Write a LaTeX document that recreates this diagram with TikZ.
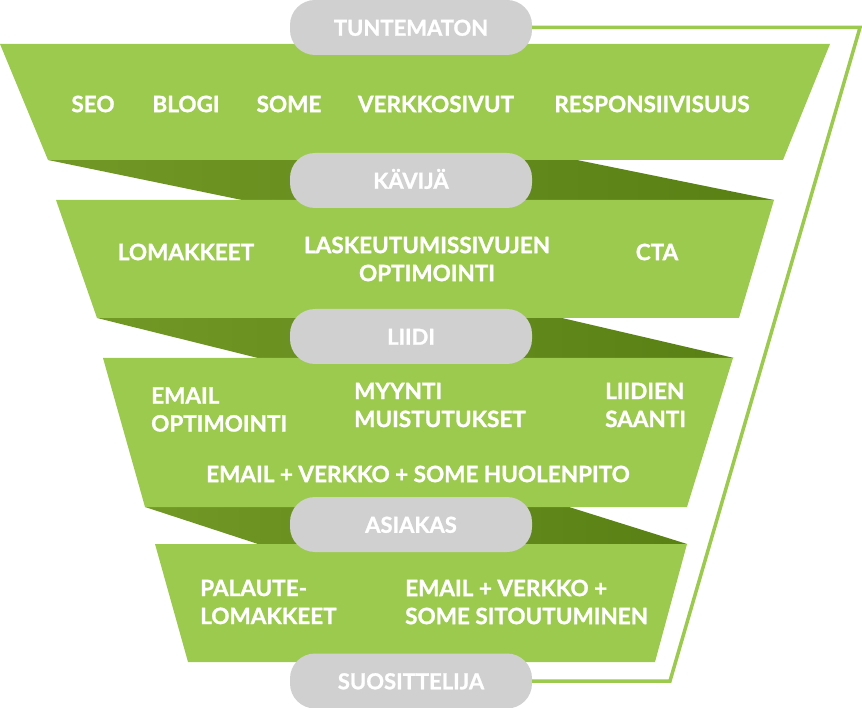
\documentclass[tikz,border=0pt]{standalone}
\usepackage{fontspec}
\setmainfont[BoldFeatures={FakeBold=1.2}]{Lato}
\usepackage{tikz}
\usetikzlibrary{positioning, calc}
\definecolor{bandgreen}{RGB}{156,202,78}
\definecolor{foldlight}{RGB}{114,152,38}
\definecolor{folddark}{RGB}{88,128,20}
\definecolor{pillgray}{RGB}{208,208,208}

\begin{document}
\begin{tikzpicture}[
    x=1pt, y=-1pt,
    band/.style={fill=bandgreen, draw=none},
    fold/.style={left color=foldlight, right color=folddark, draw=none},
    stage/.style={rectangle, fill=pillgray, rounded corners=25pt,
                  minimum width=242pt, minimum height=55pt,
                  text=white, text height=16.5pt, text depth=0pt,
                  font=\fontsize{22}{27}\selectfont\bfseries},
    itemtext/.style={text=white, inner sep=0pt,
                     font=\fontsize{22.5}{28}\selectfont\bfseries},
    outline/.style={draw=bandgreen, line width=3.5pt}
]
\useasboundingbox (0,0) rectangle (862,708);

\shade[fold] (48,160) -- (577,160) -- (774,200) -- (242,200) -- cycle;
\shade[fold] (97,318) -- (562,318) -- (734,358) -- (258,358) -- cycle;
\shade[fold] (145,507) -- (569,507) -- (687,544) -- (258,544) -- cycle;

\fill[band] (0,44) -- (830,44) -- (783,160) -- (48,160) -- cycle;
\fill[band] (56,200) -- (774,200) -- (739,318) -- (97,318) -- cycle;
\fill[band] (103,358) -- (733,358) -- (687,507) -- (145,507) -- cycle;
\fill[band] (155,544) -- (687,544) -- (655,662) -- (188,662) -- cycle;

\node[stage] (tuntematon)   at (411,27.5)  {TUNTEMATON};
\node[stage] (kavija)       at (411,180.5) {KÄVIJÄ};
\node[stage] (liidi)        at (411,336.5) {LIIDI};
\node[stage] (asiakas)      at (411,524.5) {ASIAKAS};
\node[stage] (suosittelija) at (411,681)   {SUOSITTELIJA};

\coordinate (topcorner) at (860,27.5);
\coordinate (bottomcorner) at (670,681);
\draw[outline] (tuntematon.east) -- (topcorner) -- (bottomcorner) -- (suosittelija.east);

\node[itemtext] (seo)    at (93,104)  {SEO};
\node[itemtext] (blogi)  at (186,104) {BLOGI};
\node[itemtext] (some)   at (289,104) {SOME};
\node[itemtext] (verkko) at (436,104) {VERKKOSIVUT};
\node[itemtext] (resp)   at (652,104) {RESPONSIIVISUUS};

\node[itemtext] (lomakkeet) at (186,252) {LOMAKKEET};
\node[itemtext, align=center] (laskeutuminen) at (427,259) {LASKEUTUMISSIVUJEN\\OPTIMOINTI};
\node[itemtext] (cta) at (657,252) {CTA};

\node[itemtext, align=left, anchor=west] (emailopt) at (151,409.5) {EMAIL\\OPTIMOINTI};
\node[itemtext, align=left, anchor=west] (myynti)   at (354,405)   {MYYNTI\\MUISTUTUKSET};
\node[itemtext, align=left, anchor=west] (liidien)  at (605,405)   {LIIDIEN\\SAANTI};
\node[itemtext] (huolenpito) at (418,474) {EMAIL + VERKKO + SOME HUOLENPITO};

\node[itemtext, align=left, anchor=west] (palaute)      at (200,602) {PALAUTE-\\LOMAKKEET};
\node[itemtext, align=left, anchor=west] (sitoutuminen) at (405,602) {EMAIL + VERKKO +\\SOME SITOUTUMINEN};
\end{tikzpicture}
\end{document}
